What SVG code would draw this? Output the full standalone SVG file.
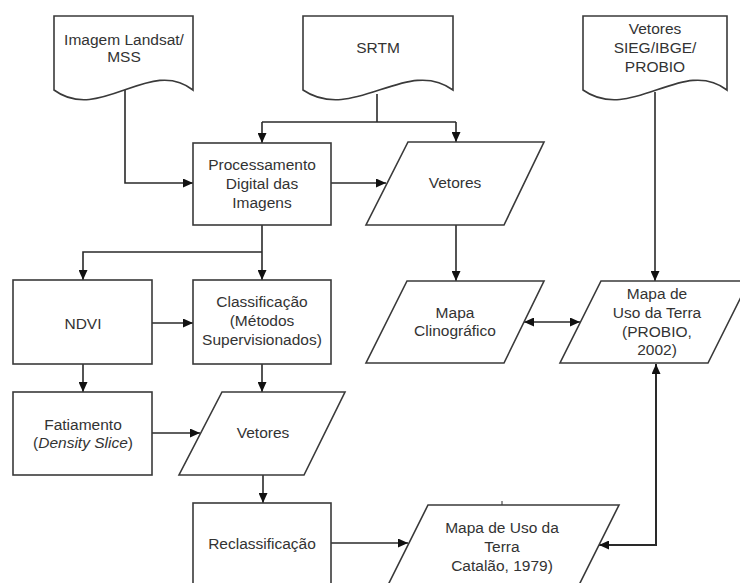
<svg xmlns="http://www.w3.org/2000/svg" width="740" height="583" viewBox="0 0 740 583">
<style>
.shape{fill:#ffffff;stroke:#3a3a3a;stroke-width:1.6}
.conn{fill:none;stroke:#2a2a2a;stroke-width:1.6}
.lbl{font-family:"Liberation Sans",Arial,sans-serif;font-size:15.5px;fill:#333333;text-anchor:middle}
</style>
<defs>
<marker id="arr" viewBox="0 0 10 9" refX="10" refY="4.5" markerWidth="10" markerHeight="9" markerUnits="userSpaceOnUse" orient="auto-start-reverse">
<path d="M0,0 L10,4.5 L0,9 z" fill="#111111"/>
</marker>
</defs>
<rect width="740" height="583" fill="#ffffff"/>

<g id="connectors">
<path class="conn" d="M125,88 V183 H193" marker-end="url(#arr)"/>
<path class="conn" d="M377,94 V122"/>
<path class="conn" d="M262,122 H456"/>
<path class="conn" d="M262,122 V143" marker-end="url(#arr)"/>
<path class="conn" d="M456,122 V142" marker-end="url(#arr)"/>
<path class="conn" d="M331,183 H386" marker-end="url(#arr)"/>
<path class="conn" d="M456,225 V281" marker-end="url(#arr)"/>
<path class="conn" d="M655,92 V281" marker-end="url(#arr)"/>
<path class="conn" d="M262,225 V280" marker-end="url(#arr)"/>
<path class="conn" d="M262,252 H83 V280" marker-end="url(#arr)"/>
<path class="conn" d="M152,323 H193" marker-end="url(#arr)"/>
<path class="conn" d="M83,364 V392" marker-end="url(#arr)"/>
<path class="conn" d="M262,364 V392" marker-end="url(#arr)"/>
<path class="conn" d="M152,433 H200" marker-end="url(#arr)"/>
<path class="conn" d="M263,475 V503" marker-end="url(#arr)"/>
<path class="conn" d="M331,543 H408" marker-end="url(#arr)"/>
<path class="conn" d="M524,322 H580" marker-start="url(#arr)" marker-end="url(#arr)"/>
<path class="conn" style="stroke-width:2" d="M656,364 V545 H599" marker-start="url(#arr)" marker-end="url(#arr)"/>
<path class="conn" style="stroke-width:1" d="M502,501 V505"/>
</g>

<g id="landsat">
<path class="shape" d="M54,16 H193 V90 C150,56 100,124 54,90 Z"/>
<text class="lbl" x="124" y="45">Imagem Landsat/</text>
<text class="lbl" x="124" y="62">MSS</text>
</g>

<g id="srtm">
<path class="shape" d="M303,16 H453 V90 C407,56 353,124 303,90 Z"/>
<text class="lbl" x="378" y="53">SRTM</text>
</g>

<g id="sieg">
<path class="shape" d="M583,16 H727 V90 C683,56 631,124 583,90 Z"/>
<text class="lbl" x="655" y="34">Vetores</text>
<text class="lbl" x="655" y="53">SIEG/IBGE/</text>
<text class="lbl" x="655" y="72">PROBIO</text>
</g>

<g id="processamento">
<rect class="shape" x="193" y="143" width="138" height="82"/>
<text class="lbl" x="262" y="170">Processamento</text>
<text class="lbl" x="262" y="189">Digital das</text>
<text class="lbl" x="262" y="208">Imagens</text>
</g>

<g id="vetores1">
<path class="shape" d="M408,142 H544 L504,225 H366 Z"/>
<text class="lbl" x="455" y="188">Vetores</text>
</g>

<g id="ndvi">
<rect class="shape" x="13" y="280" width="139" height="84"/>
<text class="lbl" x="83" y="329">NDVI</text>
</g>

<g id="classificacao">
<rect class="shape" x="193" y="280" width="138" height="84"/>
<text class="lbl" x="262" y="307">Classificação</text>
<text class="lbl" x="262" y="326">(Métodos</text>
<text class="lbl" x="262" y="345">Supervisionados)</text>
</g>

<g id="clinografico">
<path class="shape" d="M407,281 H544 L504,363 H366 Z"/>
<text class="lbl" x="455" y="318">Mapa</text>
<text class="lbl" x="455" y="336">Clinográfico</text>
</g>

<g id="probio">
<path class="shape" d="M601,281 H749 L708,363 H560 Z"/>
<text class="lbl" x="657" y="299">Mapa de</text>
<text class="lbl" x="657" y="318">Uso da Terra</text>
<text class="lbl" x="657" y="337">(PROBIO,</text>
<text class="lbl" x="657" y="355">2002)</text>
</g>

<g id="fatiamento">
<rect class="shape" x="13" y="392" width="139" height="83"/>
<text class="lbl" x="83" y="430">Fatiamento</text>
<text class="lbl" x="83" y="448">(<tspan font-style="italic">Density Slice</tspan>)</text>
</g>

<g id="vetores2">
<path class="shape" d="M222,392 H345 L304,475 H179 Z"/>
<text class="lbl" x="263" y="438">Vetores</text>
</g>

<g id="reclassificacao">
<rect class="shape" x="193" y="503" width="138" height="90"/>
<text class="lbl" x="262" y="549">Reclassificação</text>
</g>

<g id="catalao">
<path class="shape" d="M428,505 H619 L577,589 H386 Z"/>
<text class="lbl" x="502" y="533">Mapa de Uso da</text>
<text class="lbl" x="502" y="552">Terra</text>
<text class="lbl" x="502" y="571">Catalão, 1979)</text>
</g>
</svg>
